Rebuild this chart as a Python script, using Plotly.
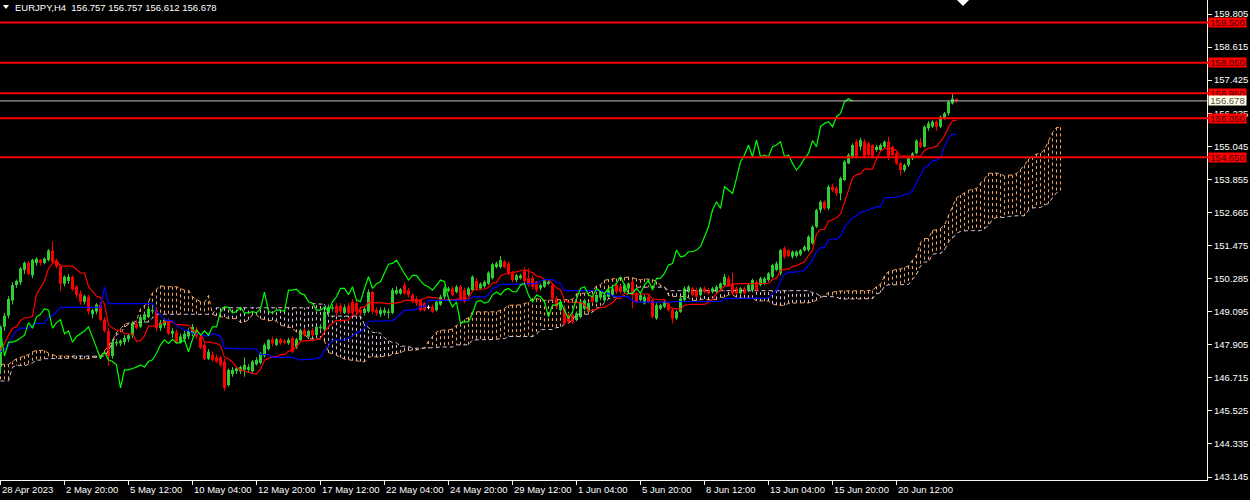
import plotly.graph_objects as go

# ---------------- data ----------------
bar_open = [
    147.10, 148.55, 148.95, 149.50, 150.05, 150.15, 150.60, 150.85, 150.40, 150.85,
    150.95, 150.85, 150.95, 151.30, 150.90, 150.72, 150.10, 150.20, 150.35, 150.00,
    149.75, 149.45, 149.63, 149.00, 149.10, 149.35, 148.80, 148.40, 147.50, 147.95,
    147.95, 148.00, 148.10, 148.25, 148.65, 148.55, 148.80, 148.90, 149.10, 149.15,
    148.50, 148.60, 148.75, 148.30, 148.35, 148.00, 148.10, 148.20, 148.30, 148.45,
    148.20, 147.90, 147.40, 147.55, 147.45, 147.45, 147.30, 146.45, 146.85, 146.95,
    146.95, 147.00, 147.00, 146.95, 147.20, 147.25, 147.50, 147.75, 148.10, 147.90,
    148.10, 148.05, 147.96, 148.15, 147.80, 148.07, 148.43, 148.20, 148.43, 148.25,
    148.50, 148.45, 149.05, 149.20, 149.30, 149.30, 149.05, 149.30, 149.45, 149.40,
    149.15, 149.05, 149.10, 149.80, 149.15, 149.00, 149.05, 149.05, 149.05, 149.75,
    149.75, 150.05, 149.87, 149.70, 149.55, 149.50, 149.40, 149.25, 149.27, 149.15,
    149.35, 149.63, 149.85, 149.93, 149.80, 149.99, 149.87, 149.70, 149.87, 150.20,
    149.93, 150.00, 150.10, 150.30, 150.70, 150.70, 150.90, 150.83, 150.47, 150.23,
    150.30, 150.55, 150.30, 150.30, 150.17, 149.93, 149.99, 150.10, 150.05, 149.57,
    149.15, 149.20, 148.97, 148.97, 148.79, 148.90, 149.20, 149.10, 149.65, 149.45,
    149.60, 149.50, 149.63, 149.70, 150.05, 150.00, 149.81, 149.93, 150.17, 149.75,
    149.51, 149.39, 149.63, 149.51, 148.85, 149.20, 149.27, 149.39, 149.15, 148.85,
    149.09, 149.51, 149.81, 149.93, 149.87, 149.69, 149.93, 149.87, 149.81, 149.81,
    149.93, 150.05, 150.29, 150.11, 149.93, 149.75, 149.93, 149.87, 149.87, 150.17,
    150.05, 150.11, 150.23, 150.35, 150.59, 150.47, 151.37, 151.30, 151.07, 151.10,
    151.15, 151.30, 151.31, 151.55, 152.15, 152.75, 153.05, 152.81, 153.59, 153.53,
    153.35, 153.83, 154.43, 154.67, 155.21, 155.03, 155.21, 155.15, 155.09, 154.91,
    154.91, 155.03, 155.21, 155.03, 154.79, 154.43, 154.19, 154.37, 154.61, 154.79,
    155.20, 155.03, 155.69, 155.75, 155.93, 155.75, 156.05, 156.23, 156.59, 156.757,
]
bar_high = [
    148.60, 149.05, 149.65, 150.15, 150.25, 150.70, 150.90, 150.90, 151.00, 151.05,
    151.00, 151.05, 151.35, 151.62, 151.00, 150.80, 150.40, 150.45, 150.40, 150.05,
    149.85, 149.70, 149.70, 149.20, 149.40, 149.45, 148.90, 148.50, 148.10, 148.10,
    148.10, 148.25, 148.30, 148.75, 148.80, 148.95, 149.05, 149.30, 149.30, 149.25,
    148.80, 148.85, 148.85, 148.50, 148.45, 148.30, 148.40, 148.50, 148.65, 148.55,
    148.30, 147.95, 147.75, 147.65, 147.55, 147.50, 147.40, 147.05, 147.10, 147.10,
    147.15, 147.45, 147.20, 147.35, 147.45, 147.65, 147.95, 148.10, 148.20, 148.15,
    148.15, 148.10, 148.15, 148.20, 148.15, 148.45, 148.50, 148.45, 148.50, 148.60,
    148.65, 149.15, 149.35, 149.35, 149.40, 149.40, 149.35, 149.40, 149.55, 149.50,
    149.25, 149.30, 149.90, 149.85, 149.25, 149.25, 149.25, 149.20, 149.95, 150.00,
    149.95, 150.15, 149.95, 149.75, 149.65, 149.55, 149.45, 149.32, 149.35, 149.50,
    149.70, 150.00, 150.00, 150.00, 150.05, 150.05, 149.95, 149.98, 150.40, 150.30,
    150.15, 150.22, 150.55, 150.85, 150.90, 151.10, 150.95, 150.90, 150.55, 150.45,
    150.45, 150.70, 150.65, 150.40, 150.20, 150.10, 150.28, 150.25, 150.10, 149.65,
    149.50, 149.30, 149.05, 149.05, 149.10, 149.50, 149.55, 149.45, 149.70, 149.75,
    149.85, 149.75, 149.92, 149.98, 150.10, 150.05, 150.10, 150.15, 150.25, 149.80,
    149.75, 149.70, 149.70, 149.55, 149.40, 149.38, 149.50, 149.45, 149.20, 149.15,
    149.65, 150.00, 150.05, 150.00, 149.95, 149.98, 150.00, 149.95, 149.98, 150.05,
    150.15, 150.45, 150.40, 150.50, 150.00, 149.98, 150.00, 150.10, 150.28, 150.25,
    150.35, 150.35, 150.52, 150.82, 150.90, 151.35, 151.45, 151.35, 151.30, 151.30,
    151.35, 151.48, 151.85, 152.20, 152.80, 153.10, 153.10, 153.65, 153.70, 153.60,
    153.95, 154.55, 154.80, 155.15, 155.30, 155.35, 155.30, 155.20, 155.12, 155.10,
    155.15, 155.25, 155.39, 155.08, 154.85, 154.50, 154.42, 154.65, 154.83, 155.30,
    155.35, 155.80, 155.95, 155.98, 155.98, 156.15, 156.28, 156.70, 156.95, 156.757,
]
bar_low = [
    146.85, 148.40, 148.85, 149.35, 149.95, 150.05, 150.45, 150.40, 150.30, 150.75,
    150.75, 150.80, 150.90, 150.85, 150.65, 149.84, 150.00, 150.10, 149.85, 149.60,
    149.35, 149.35, 149.00, 148.85, 149.00, 148.75, 148.35, 147.15, 147.40, 147.85,
    147.85, 147.90, 148.00, 148.15, 148.45, 148.50, 148.70, 148.85, 149.00, 148.40,
    148.40, 148.50, 148.25, 148.15, 147.95, 147.95, 148.00, 148.10, 148.20, 148.10,
    147.75, 147.35, 147.35, 147.30, 147.25, 147.10, 146.25, 146.40, 146.75, 146.85,
    146.85, 146.75, 146.90, 146.90, 147.15, 147.20, 147.45, 147.70, 147.85, 147.85,
    147.90, 147.92, 147.90, 147.60, 147.75, 148.00, 148.20, 148.15, 148.20, 148.20,
    148.40, 148.40, 148.95, 149.10, 148.95, 149.00, 149.00, 149.00, 148.95, 149.00,
    148.95, 148.95, 149.05, 149.00, 148.95, 148.90, 148.95, 148.85, 149.00, 149.70,
    149.70, 149.70, 149.60, 149.40, 149.30, 149.10, 149.10, 149.18, 149.05, 149.10,
    149.30, 149.55, 149.80, 149.65, 149.75, 149.45, 149.40, 149.65, 149.80, 149.85,
    149.88, 149.95, 150.05, 150.25, 150.65, 150.65, 150.65, 150.40, 150.15, 150.15,
    150.25, 150.10, 150.00, 149.90, 149.80, 149.85, 149.95, 150.05, 149.50, 149.20,
    149.10, 148.60, 148.65, 148.65, 148.75, 148.85, 149.15, 149.05, 149.40, 149.40,
    149.50, 149.45, 149.58, 149.65, 149.75, 149.75, 149.75, 149.88, 149.21, 149.40,
    149.45, 149.35, 149.40, 148.85, 148.80, 149.15, 149.22, 149.10, 148.67, 148.80,
    149.05, 149.45, 149.75, 149.65, 149.58, 149.65, 149.75, 149.70, 149.75, 149.75,
    149.88, 150.00, 150.00, 149.70, 149.70, 149.70, 149.70, 149.82, 149.82, 149.80,
    150.00, 150.05, 150.18, 150.30, 150.55, 150.40, 151.00, 151.05, 151.00, 151.05,
    151.10, 151.25, 151.25, 151.50, 152.10, 152.65, 152.75, 152.75, 153.40, 153.25,
    153.10, 153.80, 154.40, 154.60, 154.60, 154.90, 154.60, 154.68, 154.60, 154.85,
    154.85, 154.98, 154.55, 154.68, 154.38, 154.00, 154.12, 154.30, 154.55, 154.75,
    154.98, 155.00, 155.60, 155.70, 155.60, 155.70, 156.00, 156.15, 156.55, 156.612,
]
bar_close = [
    148.55, 148.95, 149.55, 150.05, 150.20, 150.65, 150.85, 150.45, 150.95, 151.00,
    150.85, 151.00, 151.30, 150.90, 150.72, 150.10, 150.35, 150.35, 149.90, 149.70,
    149.45, 149.65, 149.10, 149.15, 149.35, 148.80, 148.40, 147.50, 148.00, 148.00,
    148.05, 148.15, 148.25, 148.70, 148.50, 148.90, 149.00, 149.20, 149.15, 148.50,
    148.70, 148.80, 148.30, 148.40, 148.00, 148.20, 148.30, 148.40, 148.55, 148.20,
    147.80, 147.40, 147.65, 147.36, 147.30, 147.18, 146.35, 147.00, 147.00, 147.05,
    147.10, 147.18, 147.10, 147.30, 147.36, 147.60, 147.90, 148.08, 147.95, 148.10,
    147.96, 147.98, 148.08, 147.65, 148.10, 148.43, 148.25, 148.40, 148.25, 148.55,
    148.55, 149.09, 149.27, 149.25, 149.05, 149.10, 149.25, 149.05, 149.05, 149.10,
    149.05, 149.20, 149.80, 149.10, 149.05, 149.15, 149.15, 149.10, 149.87, 149.87,
    149.90, 149.75, 149.70, 149.45, 149.40, 149.15, 149.15, 149.25, 149.10, 149.45,
    149.63, 149.93, 149.93, 149.70, 149.99, 149.51, 149.45, 149.93, 150.35, 149.93,
    150.10, 150.17, 150.50, 150.80, 150.83, 150.95, 150.70, 150.47, 150.23, 150.40,
    150.40, 150.20, 150.05, 149.99, 149.87, 150.05, 150.23, 150.17, 149.57, 149.27,
    149.45, 148.67, 148.73, 148.73, 149.03, 149.45, 149.50, 149.40, 149.45, 149.70,
    149.80, 149.70, 149.87, 149.93, 149.81, 149.81, 150.05, 150.11, 149.69, 149.45,
    149.69, 149.63, 149.45, 148.91, 149.33, 149.33, 149.45, 149.15, 148.85, 149.09,
    149.57, 149.93, 149.99, 149.69, 149.63, 149.93, 149.81, 149.75, 149.93, 149.99,
    150.11, 150.35, 150.05, 149.75, 149.75, 149.93, 149.75, 150.05, 150.23, 149.87,
    150.29, 150.29, 150.47, 150.77, 150.83, 151.31, 151.07, 151.10, 151.25, 151.25,
    151.31, 151.43, 151.79, 152.15, 152.75, 153.05, 152.81, 153.59, 153.47, 153.35,
    153.89, 154.49, 154.73, 155.09, 154.67, 155.27, 154.67, 154.73, 154.67, 155.03,
    155.09, 155.21, 154.67, 154.73, 154.43, 154.19, 154.37, 154.61, 154.79, 155.25,
    155.03, 155.75, 155.87, 155.93, 155.75, 156.11, 156.23, 156.65, 156.757, 156.678,
]
# Ichimoku values that depend on bars before the visible window
kijun_head = [
    147.65, 147.75, 147.85, 148.20, 148.40, 148.50, 148.50, 148.50, 148.60, 148.67,
    148.67, 148.67, 148.90, 148.95, 149.10, 149.25, 149.25, 149.25, 149.25, 149.25,
    149.25, 149.25, 149.25, 149.25, 149.25, 149.25,
]
span_a_head = [
    147.20, 147.20, 147.20, 147.30, 147.40, 147.45, 147.50, 147.55, 147.65, 147.70,
    147.70, 147.70, 147.60, 147.55, 147.50, 147.50, 147.50, 147.50, 147.45, 147.40,
    147.40, 147.40, 147.40, 147.45, 147.45, 147.50,
]
span_b_head = [
    146.60, 146.60, 146.60, 147.10, 147.15, 147.15, 147.15, 147.20, 147.25, 147.35,
    147.35, 147.40, 147.40, 147.42, 147.42, 147.42, 147.42, 147.42, 147.50, 147.50,
    147.50, 147.50, 147.50, 147.50, 147.50, 147.50, 147.49, 147.69, 147.99, 148.27,
    148.32, 148.54, 148.64, 148.64, 148.69, 148.72, 148.72, 148.72, 148.87, 149.00,
    149.00, 149.00, 149.00, 149.00, 149.00, 149.00, 149.00, 149.00, 149.00, 149.00,
    149.00, 149.00, 149.00, 149.00,
]
level_prices = [159.500, 158.050, 156.950, 156.050, 154.650]
bid_price = 156.678
title_text = "EURJPY,H4  156.757 156.757 156.612 156.678"
x_tick_bars = [0, 16, 32, 48, 64, 80, 96, 112, 128, 144, 160, 176, 192, 208, 224]
x_tick_labels = ["28 Apr 2023", "2 May 20:00", "5 May 12:00", "10 May 04:00", "12 May 20:00",
                 "17 May 12:00", "22 May 04:00", "24 May 20:00", "29 May 12:00", "1 Jun 04:00",
                 "5 Jun 20:00", "8 Jun 12:00", "13 Jun 04:00", "15 Jun 20:00", "20 Jun 12:00"]
y_tick_values = [143.145, 144.335, 145.525, 146.715, 147.905, 149.095, 150.285, 151.475,
                 152.665, 153.855, 155.045, 156.235, 157.425, 158.615, 159.805]

# ---------------- styles ----------------
FONT = "Liberation Sans, Arial, sans-serif"
FS = 9.5
AXIS = "#F4F4E8"
BULL = "#32CD32"
BEAR = "#FF0000"
TENKAN_C = "#FF0000"
KIJUN_C = "#0000FF"
CHIKOU_C = "#00FF00"
SPAN_A_C = "#F4A460"
SPAN_B_C = "#D8BFD8"
SHIFT = 26

# ---------------- Ichimoku from the bars ----------------
N = len(bar_close)


def midpoint(i, n):
    s = max(0, i - n + 1)
    return (max(bar_high[s:i + 1]) + min(bar_low[s:i + 1])) / 2


tenkan = [midpoint(i, 9) for i in range(N)]
kijun = kijun_head + [midpoint(i, 26) for i in range(len(kijun_head), N)]
span_a = span_a_head + [(tenkan[k] + kijun[k]) / 2 for k in range(N)]
span_b = span_b_head + [midpoint(k, 52) for k in range(len(span_b_head) - SHIFT, N)]

fig = go.Figure()

# cloud hatch
hx_up, hy_up, hx_dn, hy_dn = [], [], [], []
for j, (a, b) in enumerate(zip(span_a, span_b)):
    if a >= b:
        hx_up += [j, j, None]
        hy_up += [a, b, None]
    else:
        hx_dn += [j, j, None]
        hy_dn += [a, b, None]
fig.add_trace(go.Scatter(x=hx_up, y=hy_up, mode="lines", line=dict(color=SPAN_A_C, width=1, dash="3px,3px"),
                         hoverinfo="skip", connectgaps=False))
fig.add_trace(go.Scatter(x=hx_dn, y=hy_dn, mode="lines", line=dict(color=SPAN_B_C, width=1, dash="3px,3px"),
                         hoverinfo="skip", connectgaps=False))
fig.add_trace(go.Scatter(x=list(range(len(span_a))), y=span_a, mode="lines",
                         line=dict(color=SPAN_A_C, width=1, dash="4px,3px"), hoverinfo="skip"))
fig.add_trace(go.Scatter(x=list(range(len(span_b))), y=span_b, mode="lines",
                         line=dict(color=SPAN_B_C, width=1, dash="4px,3px"), hoverinfo="skip"))

# candles
up = [i for i in range(N) if bar_close[i] > bar_open[i]]
dn = [i for i in range(N) if bar_close[i] < bar_open[i]]
dj = [i for i in range(N) if bar_close[i] == bar_open[i]]


def wick_xy(idx):
    xs, ys = [], []
    for i in idx:
        xs += [i, i, None]
        ys += [bar_low[i], bar_high[i], None]
    return xs, ys


for idx, col in ((up, BULL), (dn, BEAR), (dj, "#FFFFFF")):
    wx, wy = wick_xy(idx)
    fig.add_trace(go.Scatter(x=wx, y=wy, mode="lines", line=dict(color=col, width=1), hoverinfo="skip"))

fig.add_trace(go.Bar(x=up, y=[bar_close[i] - bar_open[i] for i in up], base=[bar_open[i] for i in up],
                     width=0.75, marker=dict(color=BULL, line=dict(width=0)), hoverinfo="skip"))
fig.add_trace(go.Bar(x=dn, y=[bar_open[i] - bar_close[i] for i in dn], base=[bar_close[i] for i in dn],
                     width=0.75, marker=dict(color=BEAR, line=dict(width=0)), hoverinfo="skip"))
djx, djy = [], []
for i in dj:
    djx += [i - 0.4, i + 0.4, None]
    djy += [bar_open[i], bar_open[i], None]
fig.add_trace(go.Scatter(x=djx, y=djy, mode="lines", line=dict(color="#FFFFFF", width=1), hoverinfo="skip"))

# Ichimoku lines
fig.add_trace(go.Scatter(x=list(range(N)), y=tenkan, mode="lines", line=dict(color=TENKAN_C, width=1.2),
                         hoverinfo="skip"))
fig.add_trace(go.Scatter(x=list(range(N)), y=kijun, mode="lines", line=dict(color=KIJUN_C, width=1.2),
                         hoverinfo="skip"))
fig.add_trace(go.Scatter(x=[i - SHIFT for i in range(SHIFT, N)], y=bar_close[SHIFT:], mode="lines",
                         line=dict(color=CHIKOU_C, width=1.2), hoverinfo="skip"))

# ---------------- layout ----------------
PLOT_W, PLOT_H = 1207, 480
shapes = []
for lv in level_prices:
    shapes.append(dict(type="line", xref="paper", x0=0, x1=1.004, yref="y", y0=lv, y1=lv,
                       line=dict(color="#FF0000", width=2), layer="above"))
shapes.append(dict(type="line", xref="paper", x0=0, x1=1, yref="y", y0=bid_price, y1=bid_price,
                   line=dict(color="#C0C0C0", width=1), layer="above"))


def px(xp, yp):
    return f"{xp / PLOT_W:.5f},{1 - yp / PLOT_H:.5f}"


# title triangle and chart-shift marker
shapes.append(dict(type="path", xref="paper", yref="paper",
                   path=f"M {px(3, 5)} L {px(9, 5)} L {px(6, 9)} Z",
                   fillcolor="#FFFFFF", line=dict(width=0), layer="above"))
shapes.append(dict(type="path", xref="paper", yref="paper",
                   path=f"M {px(957, 0)} L {px(969, 0)} L {px(963, 6)} Z",
                   fillcolor="#FFFFFF", line=dict(width=0), layer="above"))

annotations = []
for b, t in zip(x_tick_bars, x_tick_labels):
    annotations.append(dict(x=b, xref="x", y=0, yref="paper", xanchor="left", yanchor="top",
                            text=t, showarrow=False, yshift=-2, xshift=-1,
                            font=dict(color="#FFFFFF", size=FS, family=FONT)))
for lv in level_prices:
    annotations.append(dict(x=1, xref="paper", xanchor="left", y=lv, yref="y", yanchor="middle",
                            text=f"{lv:.3f}", showarrow=False, bgcolor="#FF0000", borderpad=0,
                            width=37, height=9, xshift=1,
                            font=dict(color="#3C0000", size=FS, family=FONT)))
annotations.append(dict(x=1, xref="paper", xanchor="left", y=bid_price, yref="y", yanchor="middle",
                        text=f"{bid_price:.3f}", showarrow=False, bgcolor="#FFFFE6", borderpad=0,
                        width=37, height=9, xshift=1,
                        font=dict(color="#505050", size=FS, family=FONT)))
annotations.append(dict(x=13 / PLOT_W, xref="paper", y=1 - 7.5 / PLOT_H, yref="paper",
                        xanchor="left", yanchor="middle", text=title_text, showarrow=False,
                        font=dict(color="#FFFFFF", size=FS, family=FONT)))

fig.update_layout(
    width=1250, height=500,
    margin=dict(l=0, r=43, t=0, b=20, pad=0),
    paper_bgcolor="#000000", plot_bgcolor="#000000",
    showlegend=False, barmode="overlay", hovermode=False,
    shapes=shapes, annotations=annotations,
    xaxis=dict(range=[-0.125, 301.625], showgrid=False, zeroline=False, showline=True, linecolor=AXIS,
               linewidth=1, ticks="outside", ticklen=4, tickcolor=AXIS, tickvals=x_tick_bars,
               showticklabels=False, fixedrange=True),
    yaxis=dict(range=[143.037, 160.309], side="right", showgrid=False, zeroline=False, showline=True,
               linecolor=AXIS, linewidth=1, ticks="outside", ticklen=4, tickcolor=AXIS,
               tickvals=y_tick_values, ticktext=[f"{v:.3f}" for v in y_tick_values],
               tickfont=dict(color="#FFFFFF", size=FS, family=FONT), fixedrange=True),
)

fig.write_html("out.html", config={"displayModeBar": False, "staticPlot": True},
               post_script="document.body.style.margin='0';document.body.style.overflow='hidden';")
